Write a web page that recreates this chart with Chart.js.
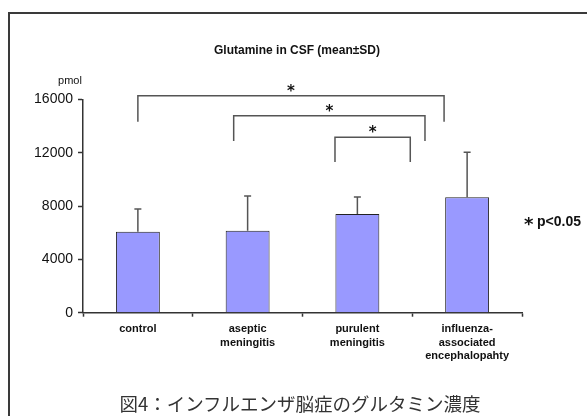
<!DOCTYPE html>
<html>
<head>
<meta charset="utf-8">
<script src="https://cdn.jsdelivr.net/npm/chart.js@4"></script>
<style>
  html, body { margin: 0; padding: 0; background: #fff; }
  #wrap { position: relative; width: 587px; height: 416px; overflow: hidden; }
  #frame { position: absolute; left: 8px; top: 12px; width: 640px; height: 460px; border: 2px solid #3a3a3a; box-sizing: border-box; }
  canvas { position: absolute; left: 0; top: 0; }
  #caption { position: absolute; left: 0; width: 600px; top: 390px; text-align: center; font: 18.5px "Noto Sans CJK JP"; color: #333; }
</style>
</head>
<body>
<div id="wrap">
  <div id="frame"></div>
  <canvas id="chart" width="587" height="416"></canvas>
  <div id="caption">図4：インフルエンザ脳症のグルタミン濃度</div>
</div>
<script>
const groups = [['control'], ['aseptic', 'meningitis'], ['purulent', 'meningitis'], ['influenza-', 'associated', 'encephalopahty']];
const means = [6070, 6150, 7400, 8650];
const sds = [1700, 2600, 1280, 3380];
const yTicks = [0, 4000, 8000, 12000, 16000];
const chartTitle = 'Glutamine in CSF (mean\u00b1SD)';
const unitLabel = 'pmol';
const pStar = '*';
const pNote = 'p<0.05';
// significance brackets: category positions and levels (pmol)
const brackets = [
  { from: 0, to: 2.79, top: 16275, end: 14325 },
  { from: 0.873, to: 2.616, top: 14775, end: 12880 },
  { from: 1.796, to: 2.482, top: 13155, end: 11300 },
];

const overlay = {
  id: 'overlay',
  afterDatasetsDraw(chart) {
    const { ctx, scales: { x, y } } = chart;
    ctx.save();
    // error bars (upper only)
    ctx.strokeStyle = '#555';
    ctx.lineWidth = 1.5;
    means.forEach((m, i) => {
      const px = x.getPixelForValue(i);
      const y0 = y.getPixelForValue(m);
      const y1 = y.getPixelForValue(m + sds[i]);
      ctx.beginPath();
      ctx.moveTo(px, y0);
      ctx.lineTo(px, y1);
      ctx.moveTo(px - 3.5, y1);
      ctx.lineTo(px + 3.5, y1);
      ctx.stroke();
    });
    // brackets and stars
    ctx.fillStyle = '#111';
    ctx.font = 'bold 15px "DejaVu Sans"';
    ctx.textAlign = 'center';
    ctx.textBaseline = 'middle';
    brackets.forEach(b => {
      const x0 = x.getPixelForValue(b.from);
      const x1 = x.getPixelForValue(b.to);
      const yt = y.getPixelForValue(b.top);
      const ye = y.getPixelForValue(b.end);
      ctx.beginPath();
      ctx.moveTo(x0, ye);
      ctx.lineTo(x0, yt);
      ctx.lineTo(x1, yt);
      ctx.lineTo(x1, ye);
      ctx.stroke();
      ctx.fillText('*', (x0 + x1) / 2, yt - 4);
    });
    ctx.restore();
  },
  afterDraw(chart) {
    const { ctx } = chart;
    ctx.save();
    ctx.fillStyle = '#111';
    ctx.textBaseline = 'middle';
    ctx.textAlign = 'center';
    ctx.font = 'bold 12px "Liberation Sans"';
    ctx.fillText(chartTitle, 297, 51);
    ctx.font = '11px "Liberation Sans"';
    ctx.fillText(unitLabel, 70, 81);
    ctx.textAlign = 'left';
    ctx.font = 'bold 18px "DejaVu Sans"';
    ctx.fillText(pStar, 524, 225);
    ctx.font = 'bold 14px "Liberation Sans"';
    ctx.fillText(pNote, 537, 222);
    ctx.restore();
  }
};

new Chart(document.getElementById('chart'), {
  type: 'bar',
  data: {
    labels: groups,
    datasets: [{
      data: means,
      backgroundColor: '#9999ff',
      borderColor: '#222',
      borderWidth: 1,
      barPercentage: 0.4,
      categoryPercentage: 1.0,
    }],
  },
  options: {
    responsive: false,
    animation: false,
    layout: { padding: { left: 0, right: 65, top: 99.3, bottom: 0 } },
    plugins: { legend: { display: false }, tooltip: { enabled: false } },
    scales: {
      x: {
        offset: true,
        grid: { display: true, drawOnChartArea: false, offset: true, color: '#333', tickLength: 4, tickWidth: 1.5 },
        border: { color: '#333', width: 1.5 },
        ticks: { color: '#111', font: { family: 'Liberation Sans', size: 11, weight: 'bold' }, padding: 6, maxRotation: 0, autoSkip: false },
        afterFit(scale) { scale.height = 416 - 312.7; },
      },
      y: {
        min: 0,
        max: 16000,
        afterBuildTicks(scale) { scale.ticks = yTicks.map(v => ({ value: v })); },
        grid: { display: true, drawOnChartArea: false, color: '#333', tickLength: 5, tickWidth: 1.5 },
        border: { color: '#333', width: 1.5 },
        ticks: { color: '#111', font: { family: 'Liberation Sans', size: 14 }, padding: 5, callback: v => String(v) },
        afterFit(scale) { scale.width = 83; },
      },
    },
  },
  plugins: [overlay],
});
</script>
</body>
</html>
